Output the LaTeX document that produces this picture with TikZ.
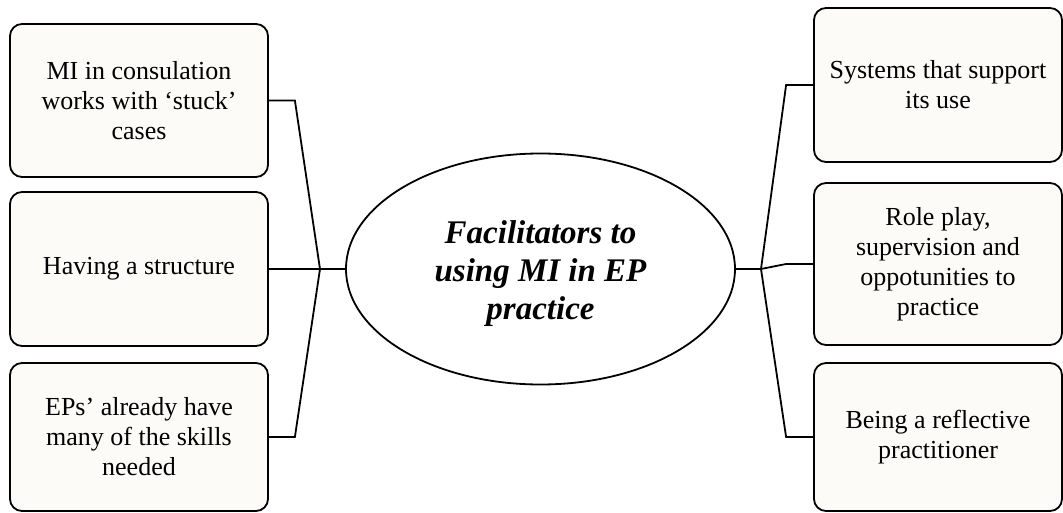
\documentclass[tikz,border=0pt]{standalone}
\usepackage{fontspec}
\setmainfont{Liberation Serif}
\usetikzlibrary{shapes.geometric}
\definecolor{boxfill}{HTML}{FCFBF7}
\begin{document}
\begin{tikzpicture}[x=1pt,y=-1pt,
  card/.style={draw, line width=1.8pt, rounded corners=12pt, fill=boxfill,
    inner sep=0pt, align=center,
    font=\fontsize{26}{30}\selectfont},
  hub/.style={draw, ellipse, line width=1.8pt, fill=white, inner sep=0pt,
    minimum width=389pt, minimum height=231pt},
  hubtext/.style={inner sep=0pt, align=center,
    font=\fontsize{33}{38}\selectfont\bfseries\itshape},
  link/.style={line width=1.8pt}]
\useasboundingbox (0,0) rectangle (1063,513);

% centre
\node[hub] (c) at (540.5,269) {};
\node[hubtext] (ct) at ([yshift=-5pt]c.center) {Facilitators to\\using MI in EP\\practice};

% left column
\node[card, minimum width=258pt, minimum height=153pt] (l1) at (139,100.5)
  {MI in consulation\\works with ‘stuck’\\cases};
\node[card, minimum width=258pt, minimum height=154pt] (l2) at (139,269)
  {Having a structure};
\node[card, minimum width=258pt, minimum height=148pt] (l3) at (139,437)
  {EPs’ already have\\many of the skills\\needed};

% right column
\node[card, minimum width=248pt, minimum height=154pt] (r1) at (938,85)
  {Systems that support\\its use};
\node[card, minimum width=248pt, minimum height=162pt] (r2) at (938,264)
  {Role play,\\supervision and\\oppotunities to\\practice};
\node[card, minimum width=248pt, minimum height=148pt] (r3) at (938,437)
  {Being a reflective\\practitioner};

% branch points
\coordinate (jl) at (320,269);
\coordinate (jr) at (761,269);

% connectors
\draw[link] (l1.east) -- ++(26,0) -- (jl);
\draw[link] (l3.east) -- ++(26,0) -- (jl);
\draw[link] (l2.east) -- (c.west);
\draw[link] (c.east) -- (jr);
\draw[link] (r1.west) -- ++(-27,0) -- (jr);
\draw[link] (r2.west) -- ++(-27,0) -- (jr);
\draw[link] (r3.west) -- ++(-27,0) -- (jr);
\end{tikzpicture}
\end{document}
